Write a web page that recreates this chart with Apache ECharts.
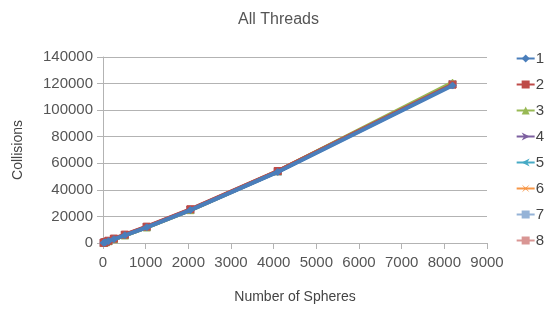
<!DOCTYPE html>
<html>
<head>
<meta charset="utf-8">
<script src="https://cdn.jsdelivr.net/npm/echarts@6/dist/echarts.min.js"></script>
<style>
  html, body { margin: 0; padding: 0; background: #fff; }
  #main { width: 557px; height: 311px; }
</style>
</head>
<body>
<div id="main"></div>
<script>
// number of spheres
var spheres = [16, 32, 64, 128, 256, 512, 1024, 2048, 4096, 8192];
// collisions per thread count
var t1 = [120, 300, 650, 1400, 2900, 5800, 11800, 24800, 53500, 118500];
var t2 = [180, 380, 800, 1700, 3300, 6300, 12300, 25400, 54200, 119200];
var t3 = [110, 290, 640, 1350, 2800, 5700, 11700, 24700, 54000, 120800];
var t4 = [130, 310, 660, 1420, 2950, 5850, 11900, 24900, 53800, 119500];
var t5 = [125, 305, 655, 1410, 2920, 5820, 11850, 24850, 53700, 119300];
var t6 = [140, 320, 680, 1450, 3000, 5900, 11950, 24950, 53900, 119700];
var t7 = [135, 315, 670, 1440, 2980, 5880, 11920, 24920, 53850, 119400];
var t8 = [160, 350, 740, 1550, 3150, 6100, 12100, 25100, 54000, 119600];
var names = ['1', '2', '3', '4', '5', '6', '7', '8'];
var colors = ['#4a7ebb', '#be4b48', '#98b954', '#7d60a0', '#46aac5', '#f79646', '#95b3d7', '#d99694'];
var symbols = ['diamond', 'rect', 'triangle', 'path://M0,0 L10,5 L0,10 L3,5 Z', 'path://M10,0 L0,5 L10,10 L7,5 Z', 'path://M0,0 L4,5 L0,10 L5,6 L10,10 L6,5 L10,0 L5,4 Z', 'path://M0,3 L10,3 L10,7 L0,7 Z', 'rect'];
var allData = [t1, t2, t3, t4, t5, t6, t7, t8];

var series = [];
for (let i = allData.length - 1; i >= 0; i--) {
    series.push({
        name: names[i],
        type: 'line',
        data: spheres.map(function (x, j) { return [x, allData[i][j]]; }),
        symbol: symbols[i],
        symbolSize: 7,
        showSymbol: true,
        z: i === 0 ? 20 : 10 - i,
        lineStyle: { width: 4, color: colors[i] },
        itemStyle: { color: colors[i], borderColor: colors[i] },
        animation: false
    });
}

var fmt = function (v) { return String(v); };

var myChart = echarts.init(document.getElementById('main'));
var option = {
    title: {
        text: 'All Threads',
        left: 'center',
        top: 7,
        textStyle: { fontFamily: 'Liberation Sans', fontSize: 16, fontWeight: 'normal', color: '#555' }
    },
    color: colors,
    legend: {
        orient: 'vertical',
        right: 8,
        top: 45,
        itemGap: 9,
        itemWidth: 18,
        itemHeight: 10,
        textStyle: { fontFamily: 'Liberation Sans', fontSize: 15, color: '#444', padding: [0, 0, 0, -4], lineHeight: 17 },
        data: names
    },
    grid: { left: 103, right: 70, top: 57, bottom: 68 },
    xAxis: {
        type: 'value',
        min: 0,
        max: 9000,
        interval: 1000,
        name: 'Number of Spheres',
        nameLocation: 'middle',
        nameGap: 47,
        nameTextStyle: { fontFamily: 'Liberation Sans', fontSize: 14, color: '#444' },
        axisLine: { show: true, lineStyle: { color: '#b3b3b3' } },
        axisTick: { show: true, length: 6, lineStyle: { color: '#b3b3b3' } },
        splitLine: { show: false },
        axisLabel: { fontFamily: 'Liberation Sans', fontSize: 15, color: '#555', margin: 12, formatter: fmt }
    },
    yAxis: {
        type: 'value',
        min: 0,
        max: 140000,
        interval: 20000,
        name: 'Collisions',
        nameLocation: 'middle',
        nameGap: 78,
        nameTextStyle: { fontFamily: 'Liberation Sans', fontSize: 14, color: '#444' },
        axisLine: { show: true, lineStyle: { color: '#b3b3b3' } },
        axisTick: { show: true, length: 6, lineStyle: { color: '#b3b3b3' } },
        splitLine: { show: true, lineStyle: { color: '#b3b3b3' } },
        axisLabel: { fontFamily: 'Liberation Sans', fontSize: 15, color: '#555', margin: 10, formatter: fmt }
    },
    series: series
};
myChart.setOption(option);
</script>
</body>
</html>
